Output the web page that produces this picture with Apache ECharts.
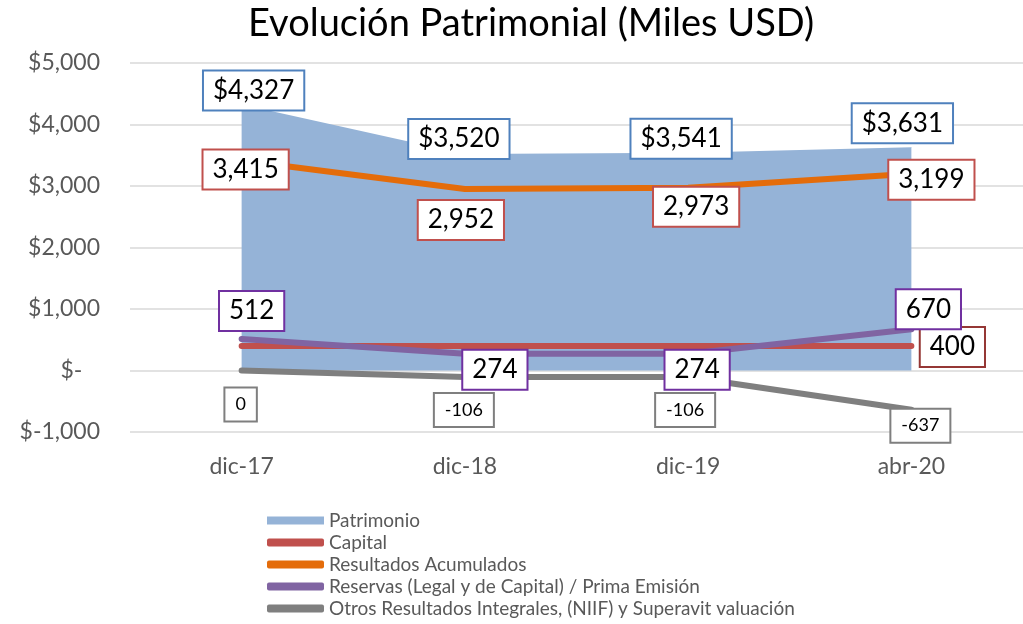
<!DOCTYPE html>
<html>
<head>
<meta charset="utf-8">
<script src="https://cdn.jsdelivr.net/npm/echarts@6/dist/echarts.min.js"></script>
<style>
  html, body { margin: 0; padding: 0; background: #fff; }
  #chart { width: 1023px; height: 624px; }
</style>
</head>
<body>
<div id="chart"></div>
<script>
var categories = ['dic-17', 'dic-18', 'dic-19', 'abr-20'];
var patrimonio = [4327, 3520, 3541, 3631];
var capital = [400, 400, 400, 400];
var resultados = [3415, 2952, 2973, 3199];
var reservas = [512, 274, 274, 670];
var otros = [0, -106, -106, -637];

// desplazamiento de cada etiqueta respecto al punto (null = sin etiqueta)
var offPatrimonio = [[12, -14], [-6, -15], [-7, -14], [-9, -24]];
var offCapital = [null, null, null, [41, 1]];
var offResultados = [[4, 9], [-4, 31], [8, 19], [20, 6]];
var offReservas = [[10, -28], [30, 16], [9, 16], [17, -20]];
var offOtros = [[-1, 34], [-1, 33], [-3, 33], [9, 16]];

var font = 'Lato, "Open Sans", sans-serif';

function withLabels(values, offsets, border, size, fmt) {
  return values.map(function (v, i) {
    var o = offsets[i];
    if (!o) return { value: v, label: { show: false } };
    return {
      value: v,
      label: {
        show: true,
        position: 'inside',
        offset: o,
        formatter: fmt,
        fontFamily: font,
        fontSize: size,
        color: '#000',
        backgroundColor: '#fff',
        borderColor: border,
        borderWidth: 2,
        padding: size > 20 ? [7, 9, 5, 9] : [8, 10, 6, 10]
      }
    };
  });
}

function num(p) { return p.value.toLocaleString('en-US'); }

var chart = echarts.init(document.getElementById('chart'));

var option = {
  animation: false,
  title: {
    text: 'Evolución Patrimonial (Miles USD)',
    left: 243,
    top: 0,
    textStyle: { fontFamily: font, fontSize: 38, fontWeight: 'normal', color: '#000' }
  },
  legend: {
    orient: 'vertical',
    left: 262,
    top: 506,
    height: 140,
    itemWidth: 57,
    itemHeight: 8,
    itemGap: 3,
    textStyle: { fontFamily: font, fontSize: 19, color: '#595959', lineHeight: 19 },
    data: [
      { name: 'Patrimonio', icon: 'rect' },
      { name: 'Capital', icon: 'roundRect' },
      { name: 'Resultados Acumulados', icon: 'roundRect' },
      { name: 'Reservas (Legal y de Capital) / Prima Emisión', icon: 'roundRect' },
      { name: 'Otros Resultados Integrales, (NIIF) y Superavit valuación', icon: 'roundRect' }
    ]
  },
  grid: { left: 130, top: 63, width: 908, height: 369 },
  xAxis: {
    type: 'category',
    data: categories,
    boundaryGap: true,
    axisLine: { show: false },
    axisTick: { show: false },
    axisLabel: { fontFamily: font, fontSize: 23, color: '#595959', margin: 23 }
  },
  yAxis: {
    type: 'value',
    min: -1000,
    max: 5000,
    interval: 1000,
    axisLine: { show: false },
    axisTick: { show: false },
    splitLine: { lineStyle: { color: '#d9d9d9', width: 1.5 } },
    axisLabel: {
      fontFamily: font, fontSize: 23, color: '#595959', margin: 30,
      formatter: function (v) { return v === 0 ? '$-   ' : '$' + v.toLocaleString('en-US'); }
    }
  },
  series: [
    {
      name: 'Patrimonio',
      type: 'line',
      data: withLabels(patrimonio, offPatrimonio, '#4F81BD', 26, function (p) { return '$' + num(p); }),
      symbol: 'circle',
      symbolSize: 0.5,
      lineStyle: { width: 0 },
      itemStyle: { color: '#95B3D7' },
      areaStyle: { color: '#95B3D7', opacity: 1 },
      z: 1
    },
    {
      name: 'Capital',
      type: 'line',
      data: withLabels(capital, offCapital, '#953735', 26, num),
      symbol: 'circle',
      symbolSize: 0.5,
      lineStyle: { width: 6, color: '#C0504D', cap: 'round' },
      itemStyle: { color: '#C0504D' },
      z: 3
    },
    {
      name: 'Resultados Acumulados',
      type: 'line',
      data: withLabels(resultados, offResultados, '#C0504D', 26, num),
      symbol: 'circle',
      symbolSize: 0.5,
      lineStyle: { width: 6, color: '#E46C0A', cap: 'round' },
      itemStyle: { color: '#E46C0A' },
      z: 4
    },
    {
      name: 'Reservas (Legal y de Capital) / Prima Emisión',
      type: 'line',
      data: withLabels(reservas, offReservas, '#7030A0', 26, num),
      symbol: 'circle',
      symbolSize: 0.5,
      lineStyle: { width: 6, color: '#8064A2', cap: 'round' },
      itemStyle: { color: '#8064A2' },
      z: 5
    },
    {
      name: 'Otros Resultados Integrales, (NIIF) y Superavit valuación',
      type: 'line',
      data: withLabels(otros, offOtros, '#7F7F7F', 18, num),
      symbol: 'circle',
      symbolSize: 0.5,
      lineStyle: { width: 6, color: '#7F7F7F', cap: 'round' },
      itemStyle: { color: '#7F7F7F' },
      z: 2
    }
  ]
};

chart.setOption(option);
</script>
</body>
</html>
